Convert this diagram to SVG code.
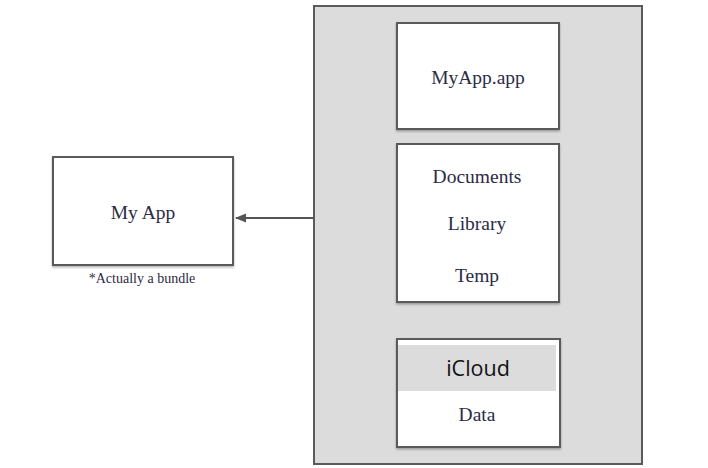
<svg xmlns="http://www.w3.org/2000/svg" width="708" height="468" viewBox="0 0 708 468">
<defs>
<filter id="sh" x="-10%" y="-10%" width="120%" height="125%">
<feDropShadow dx="0" dy="1.5" stdDeviation="1.2" flood-color="#000" flood-opacity="0.3"/>
</filter>
<marker id="ah" markerWidth="12" markerHeight="12" refX="10" refY="6" orient="auto" markerUnits="userSpaceOnUse">
<path d="M0,1.5 L11,6 L0,10.5 z" fill="#555"/>
</marker>
<style>
.box{fill:#fff;stroke:#5a5a5a;stroke-width:2;filter:url(#sh)}
.t{font-family:"Liberation Serif","Times New Roman",serif;fill:#2b2b45;text-anchor:middle}
</style>
</defs>
<rect width="708" height="468" fill="#fff"/>
<g id="container">
<rect x="314" y="6" width="328" height="458" fill="#dcdcdc" stroke="#5a5a5a" stroke-width="2"/>
</g>
<g id="myapp">
<rect class="box" x="53" y="157" width="180" height="108"/>
<text class="t" x="143" y="219" font-size="19.5">My App</text>
<text class="t" x="142" y="283" font-size="14">*Actually a bundle</text>
</g>
<g id="myappapp">
<rect class="box" x="397" y="23" width="162" height="106"/>
<text class="t" x="478" y="84" font-size="19.5">MyApp.app</text>
</g>
<g id="dirs">
<rect class="box" x="397" y="144" width="162" height="158"/>
<text class="t" x="477" y="183" font-size="19.5">Documents</text>
<text class="t" x="477" y="230" font-size="19.5">Library</text>
<text class="t" x="477" y="282" font-size="19.5">Temp</text>
</g>
<g id="icloud">
<rect class="box" x="397" y="339" width="163" height="108"/>
<rect x="398" y="345" width="158" height="46" fill="#dcdcdc"/>
<text x="478" y="376" font-size="21.5" font-family="'Open Sans','Noto Sans',sans-serif" text-anchor="middle" fill="#111">iCloud</text>
<text class="t" x="477" y="421" font-size="19.5">Data</text>
</g>
<g id="connectors">
<line x1="314" y1="218" x2="236" y2="218" stroke="#555" stroke-width="2" marker-end="url(#ah)"/>
</g>
</svg>
